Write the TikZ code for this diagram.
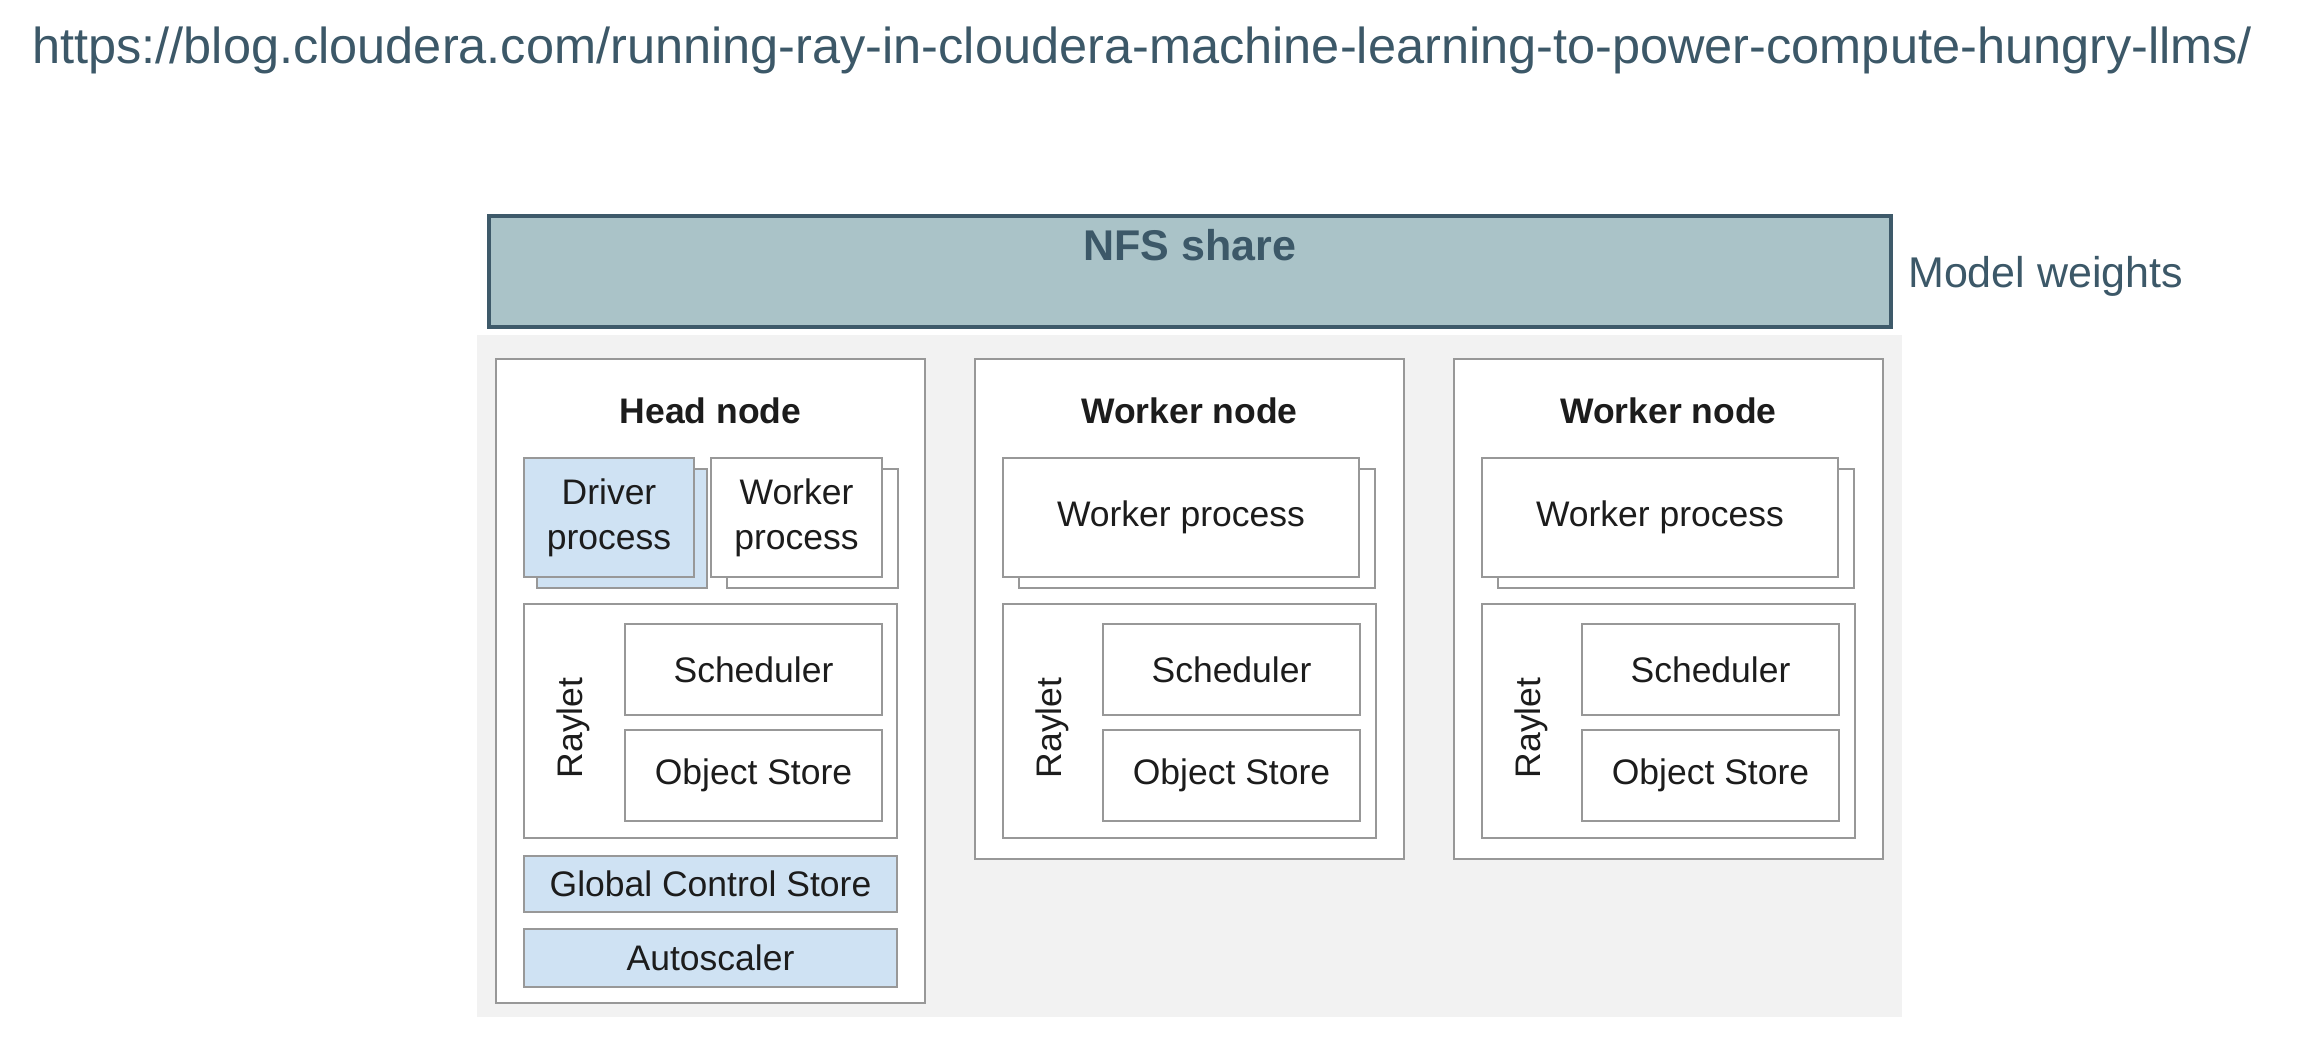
\documentclass[tikz,border=0pt]{standalone}
\usepackage{fontspec}
\setmainfont{Liberation Sans}
\usetikzlibrary{calc,positioning,shadows}

\definecolor{slate}{RGB}{60,88,104}
\definecolor{nfsfill}{RGB}{170,195,200}
\definecolor{nfsline}{RGB}{62,90,106}
\definecolor{boxgray}{RGB}{152,152,152}
\definecolor{procblue}{RGB}{207,226,243}
\definecolor{bggray}{RGB}{242,242,242}
\definecolor{ink}{RGB}{28,28,28}

\tikzset{
  box/.style={draw=boxgray, line width=2.8pt, fill=white, rectangle, inner sep=0pt, outer sep=0pt,
    text=ink, align=center, font=\fontsize{35.5}{45}\selectfont},
  bluebox/.style={box, fill=procblue},
  stack/.style={copy shadow={shadow xshift=#1, shadow yshift=-11pt}},
  stack/.default=16pt,
  title/.style={anchor=base, inner sep=0pt, text=ink, font=\bfseries\fontsize{35.5}{42}\selectfont},
  sidelbl/.style={rotate=90, inner sep=0pt, text=ink, font=\fontsize{35.5}{42}\selectfont}
}

\begin{document}
\begin{tikzpicture}[x=1pt, y=-1pt]
			\useasboundingbox (0,0) rectangle (2316,1038);
			% Header and shared storage
			\node[anchor=base west, inner sep=0pt, text=slate, font=\fontsize{50.5}{60}\selectfont] (url) at (32,64) {https://blog.cloudera.com/running-ray-in-cloudera-machine-learning-to-power-compute-hungry-llms/};
			\node[draw=nfsline, fill=nfsfill, line width=3.6pt, minimum width=1402pt, minimum height=111pt, inner sep=0pt, outer sep=0pt, anchor=north west] (nfs) at (489,216) {};
			\node[anchor=base, inner sep=0pt, text=slate, font=\bfseries\fontsize{43}{50}\selectfont] (nfslbl) at ($(nfs.north)+(0,44)$) {NFS share};
			\node[anchor=base west, inner sep=0pt, text=slate, font=\fontsize{43}{50}\selectfont] (weights) at ($(nfs.east)+(17,16)$) {Model weights};
			\node[fill=bggray, minimum width=1425pt, minimum height=682pt, inner sep=0pt, outer sep=0pt, anchor=north west] (cluster) at (477,335) {};
			
			% Head node
			\node[box, minimum width=429pt, minimum height=644pt, anchor=north west] (head) at (496,359) {};
			\node[title] (headlbl) at ($(head.north)+(0,64)$) {Head node};
			\node[bluebox, stack=13pt, minimum width=170pt, minimum height=119pt, below right=99pt and 28pt of head.north west] (hdriver) {Driver\\process};
			\node[box, stack, minimum width=171pt, minimum height=119pt, right=17pt of hdriver] (hworker) {Worker\\process};
			\node[box, minimum width=373pt, minimum height=234pt, below right=27pt and 0pt of hdriver.south west] (hraylet) {};
			\node[box, minimum width=257pt, minimum height=91pt, below right=20pt and 101pt of hraylet.north west] (hsched) {Scheduler};
			\node[box, minimum width=257pt, minimum height=91pt, below=15pt of hsched] (hobj) {Object Store};
			\node[sidelbl] (hrlbl) at ($(hraylet.west)+(49,7)$) {Raylet};
			\node[bluebox, minimum width=373pt, minimum height=56pt, below=18pt of hraylet] (hgcs) {Global Control Store};
			\node[bluebox, minimum width=373pt, minimum height=58pt, below=17pt of hgcs] (hauto) {Autoscaler};
			
			% Worker node 1
			\node[box, minimum width=429pt, minimum height=500pt, right=50pt of head.north east, anchor=north west] (worker1) {};
			\node[title] (w1lbl) at ($(worker1.north)+(0,64)$) {Worker node};
			\node[box, stack, minimum width=356pt, minimum height=119pt, below right=99pt and 28pt of worker1.north west] (w1proc) {Worker process};
			\node[box, minimum width=373pt, minimum height=234pt, below right=27pt and 0pt of w1proc.south west] (w1raylet) {};
			\node[box, minimum width=257pt, minimum height=91pt, below right=20pt and 100pt of w1raylet.north west] (w1sched) {Scheduler};
			\node[box, minimum width=257pt, minimum height=91pt, below=15pt of w1sched] (w1obj) {Object Store};
			\node[sidelbl] (w1rlbl) at ($(w1raylet.west)+(49,7)$) {Raylet};
			
			% Worker node 2
			\node[box, minimum width=429pt, minimum height=500pt, right=50pt of worker1.north east, anchor=north west] (worker2) {};
			\node[title] (w2lbl) at ($(worker2.north)+(0,64)$) {Worker node};
			\node[box, stack, minimum width=356pt, minimum height=119pt, below right=99pt and 28pt of worker2.north west] (w2proc) {Worker process};
			\node[box, minimum width=373pt, minimum height=234pt, below right=27pt and 0pt of w2proc.south west] (w2raylet) {};
			\node[box, minimum width=257pt, minimum height=91pt, below right=20pt and 100pt of w2raylet.north west] (w2sched) {Scheduler};
			\node[box, minimum width=257pt, minimum height=91pt, below=15pt of w2sched] (w2obj) {Object Store};
			\node[sidelbl] (w2rlbl) at ($(w2raylet.west)+(49,7)$) {Raylet};
		\end{tikzpicture}
\end{document}
